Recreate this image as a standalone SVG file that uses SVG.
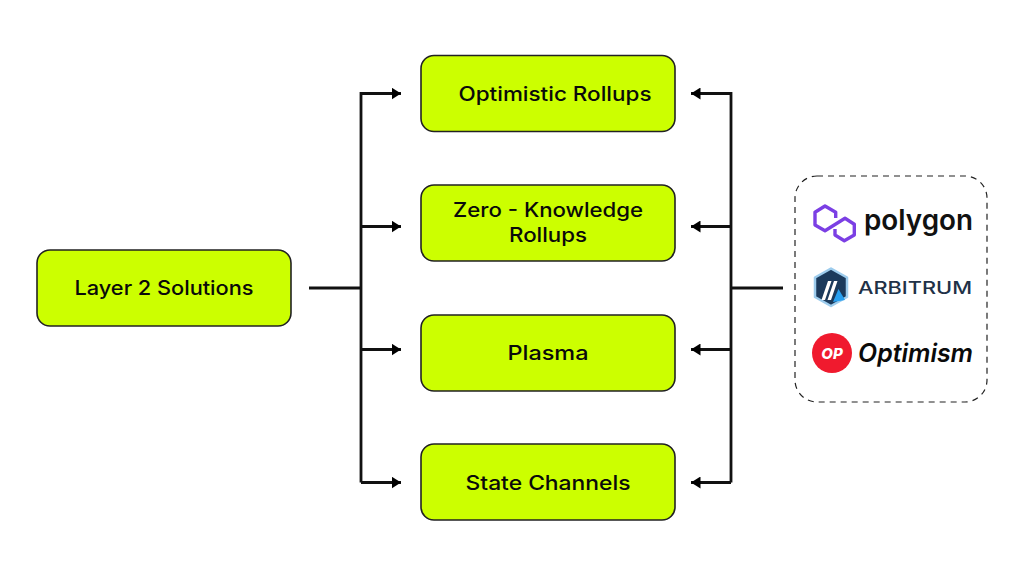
<svg xmlns="http://www.w3.org/2000/svg" width="1024" height="576" viewBox="0 0 1024 576">
<style>
.box{fill:#cf0;stroke:#222;stroke-width:1.6}
.t{font-family:Inter,"Liberation Sans",sans-serif;font-weight:500;font-size:20px;fill:#0a0a0a;text-anchor:middle}
.c{fill:none;stroke:#111;stroke-width:2.8}
.logo{font-family:Inter,"Liberation Sans",sans-serif}
</style>
<defs><marker id="a" markerUnits="userSpaceOnUse" markerWidth="10" markerHeight="12" refX="9.500" refY="6" orient="auto"><path d="M0 0L9.500 6L0 12Z" fill="#000"/></marker></defs>
<rect width="1024" height="576" fill="#fff"/>
<g id="connectors">
<path class="c" d="M309 288H361"/>
<path class="c" d="M361 482.500V93.500H401" marker-end="url(#a)"/>
<path class="c" d="M361 226.500H401" marker-end="url(#a)"/>
<path class="c" d="M361 349.500H401" marker-end="url(#a)"/>
<path class="c" d="M361 482.500H401" marker-end="url(#a)"/>
<path class="c" d="M783 288H731"/>
<path class="c" d="M731 482.500V93.500H691" marker-end="url(#a)"/>
<path class="c" d="M731 226.500H691" marker-end="url(#a)"/>
<path class="c" d="M731 349.500H691" marker-end="url(#a)"/>
<path class="c" d="M731 482.500H691" marker-end="url(#a)"/>
</g>
<g id="layer2"><rect class="box" x="37" y="250" width="254" height="76" rx="13"/><text class="t" x="164" y="295" textLength="179" lengthAdjust="spacingAndGlyphs">Layer 2 Solutions</text></g>
<g id="optimistic"><rect class="box" x="421" y="55.500" width="254" height="76" rx="13"/><text class="t" x="555" y="101" textLength="193" lengthAdjust="spacingAndGlyphs">Optimistic Rollups</text></g>
<g id="zk"><rect class="box" x="421" y="185" width="254" height="76" rx="13"/><text class="t" x="548" y="217" textLength="190" lengthAdjust="spacingAndGlyphs">Zero - Knowledge</text><text class="t" x="548" y="242" textLength="78" lengthAdjust="spacingAndGlyphs">Rollups</text></g>
<g id="plasma"><rect class="box" x="421" y="315" width="254" height="76" rx="13"/><text class="t" x="548" y="360" textLength="81" lengthAdjust="spacingAndGlyphs">Plasma</text></g>
<g id="state"><rect class="box" x="421" y="444" width="254" height="76" rx="13"/><text class="t" x="548" y="490" textLength="165" lengthAdjust="spacingAndGlyphs">State Channels</text></g>
<g id="providers">
<rect x="795" y="176" width="192" height="226" rx="22" fill="#fff" stroke="#222" stroke-width="1.2" stroke-dasharray="6 5"/>
<g id="polygon-logo">
<path d="M835.700 218V212.300L825 206L815 212.300V225L825 230.700L845 218.300L854.300 224.300V235L844.300 240.700L835 235V229" fill="none" stroke="#7b3fe4" stroke-width="3.400" stroke-linejoin="round"/>
<text class="logo" x="864" y="230" font-size="28" font-weight="600" fill="#111" textLength="109" lengthAdjust="spacingAndGlyphs">polygon</text>
</g>
<g id="arbitrum-logo">
<path d="M831 268.500L847 277.500V297L831 306L815 297V277.500Z" fill="#1b3a5c" stroke="#9dcced" stroke-width="2.500" stroke-linejoin="round"/>
<path d="M821.500 300L828 281H831.500L825 300ZM827.500 300L834 281H837.500L831 300Z" fill="#fff"/>
<path d="M833 302L838.500 289L845 300Z" fill="#28a0f0"/>
<text class="logo" x="858" y="294" font-size="17" font-weight="500" fill="#213147" textLength="114" lengthAdjust="spacingAndGlyphs">ARBITRUM</text>
</g>
<g id="optimism-logo">
<circle cx="832" cy="353" r="20" fill="#f01a2e"/>
<text class="logo" x="832" y="359" font-size="15" font-weight="800" font-style="italic" fill="#fff" text-anchor="middle">OP</text>
<text class="logo" x="858" y="362" font-size="25" font-weight="600" font-style="italic" fill="#0a0a0a" textLength="115" lengthAdjust="spacingAndGlyphs">Optimism</text>
</g>
</g>
</svg>
